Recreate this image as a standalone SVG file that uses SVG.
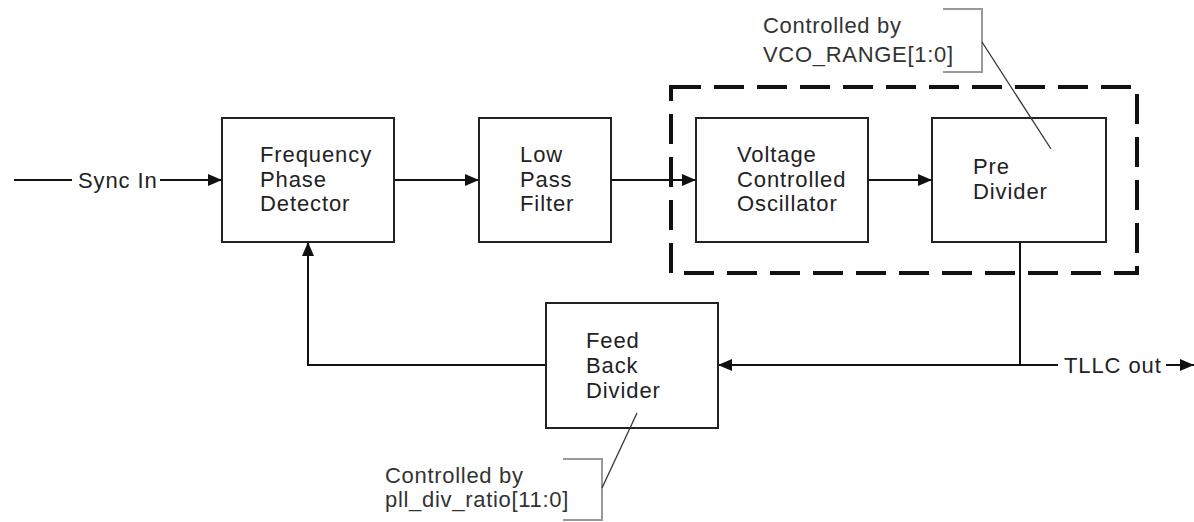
<svg xmlns="http://www.w3.org/2000/svg" width="1194" height="522" viewBox="0 0 1194 522">
<style>
.box{fill:#fff;stroke:#222;stroke-width:2}
.t{font-family:"Liberation Sans",Arial,sans-serif;font-size:22px;fill:#222;letter-spacing:0.9px}
.a{font-family:"Liberation Sans",Arial,sans-serif;font-size:22px;fill:#333;letter-spacing:0.7px}
.w{fill:none;stroke:#111;stroke-width:2}
.br{fill:none;stroke:#999;stroke-width:2}
.ld{fill:none;stroke:#333;stroke-width:1.3}
</style>
<defs>
<marker id="ah" viewBox="0 0 14 12" refX="14" refY="6" markerWidth="14" markerHeight="12" markerUnits="userSpaceOnUse" orient="auto">
<path d="M0,0 L14,6 L0,12 Z" fill="#111"/>
</marker>
</defs>
<rect width="1194" height="522" fill="#fff"/>
<g id="vco-group">
<rect x="671" y="87" width="466" height="186" fill="none" stroke="#111" stroke-width="4" stroke-dasharray="30 13"/>
</g>
<g id="connectors">
<line class="w" x1="14" y1="180" x2="72" y2="180"/>
<line class="w" x1="160" y1="180" x2="222" y2="180" marker-end="url(#ah)"/>
<line class="w" x1="394" y1="180" x2="479" y2="180" marker-end="url(#ah)"/>
<line class="w" x1="611" y1="180" x2="696" y2="180" marker-end="url(#ah)"/>
<line class="w" x1="868" y1="180" x2="932" y2="180" marker-end="url(#ah)"/>
<polyline class="w" points="1020,242 1020,365"/>
<line class="w" x1="1058" y1="365" x2="718" y2="365" marker-end="url(#ah)"/>
<polyline class="w" points="546,365 308,365 308,242" marker-end="url(#ah)"/>
<line class="w" x1="1166" y1="365" x2="1194" y2="365" marker-end="url(#ah)"/>
<text class="t" x="78" y="188">Sync In</text>
<text class="t" x="1064" y="373">TLLC out</text>
</g>
<g id="fpd">
<rect class="box" x="222" y="118" width="172" height="124"/>
<text class="t" x="260" y="162">Frequency</text>
<text class="t" x="260" y="187">Phase</text>
<text class="t" x="260" y="211">Detector</text>
</g>
<g id="lpf">
<rect class="box" x="479" y="118" width="132" height="124"/>
<text class="t" x="520" y="162">Low</text>
<text class="t" x="520" y="187">Pass</text>
<text class="t" x="520" y="211">Filter</text>
</g>
<g id="vco">
<rect class="box" x="696" y="118" width="172" height="124"/>
<text class="t" x="737" y="162">Voltage</text>
<text class="t" x="737" y="187">Controlled</text>
<text class="t" x="737" y="211">Oscillator</text>
</g>
<g id="prediv">
<rect class="box" x="932" y="118" width="174" height="124"/>
<text class="t" x="973" y="174">Pre</text>
<text class="t" x="973" y="199">Divider</text>
</g>
<g id="fbd">
<rect class="box" x="546" y="303" width="172" height="125"/>
<text class="t" x="586" y="348">Feed</text>
<text class="t" x="586" y="373">Back</text>
<text class="t" x="586" y="398">Divider</text>
</g>
<g id="note-vco">
<polyline class="br" points="943,9 982,9 982,72 943,72"/>
<line class="ld" x1="982" y1="42" x2="1051" y2="149"/>
<text class="a" x="763" y="33">Controlled by</text>
<text class="a" x="763" y="62">VCO_RANGE[1:0]</text>
</g>
<g id="note-fbd">
<polyline class="br" points="563,459 602,459 602,520 563,520"/>
<line class="ld" x1="602" y1="488" x2="637" y2="413"/>
<text class="a" x="385" y="483">Controlled by</text>
<text class="a" x="385" y="507">pll_div_ratio[11:0]</text>
</g>
</svg>
